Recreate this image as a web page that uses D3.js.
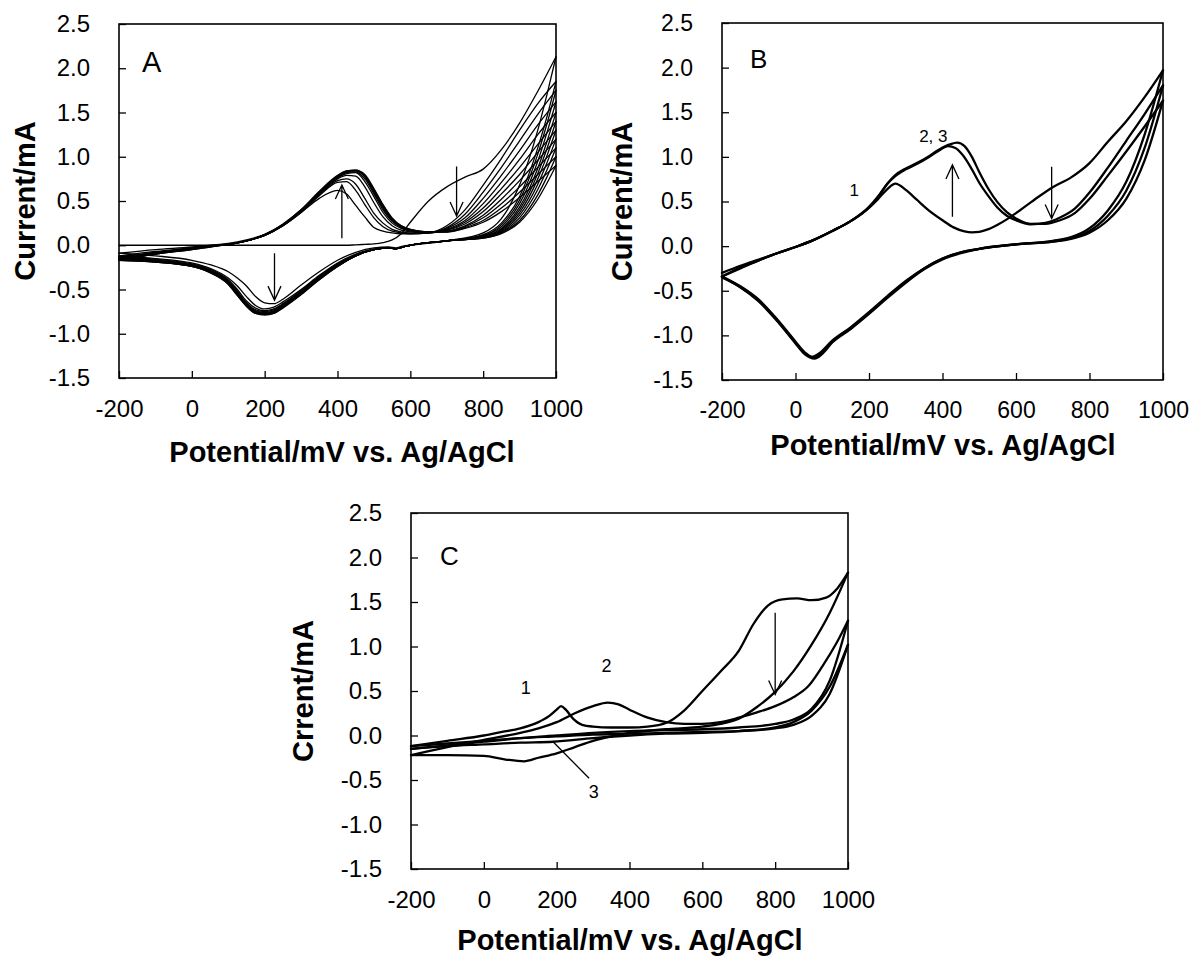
<!DOCTYPE html>
<html><head><meta charset="utf-8">
<script src="https://cdnjs.cloudflare.com/ajax/libs/d3/7.8.5/d3.min.js"></script>
<style>
body{margin:0;background:#fff}
svg{display:block}
text{font-family:"Liberation Sans",Arial,sans-serif;fill:#000}
</style>
</head><body>
<svg id="c" width="1196" height="961"></svg>
<script>
// ---------- shared axis data ----------
const xTickValues = [-200, 0, 200, 400, 600, 800, 1000];
const xTickLabels = ["-200", "0", "200", "400", "600", "800", "1000"];
const yTickValues = [-1.5, -1.0, -0.5, 0.0, 0.5, 1.0, 1.5, 2.0, 2.5];
const yTickLabels = ["-1.5", "-1.0", "-0.5", "0.0", "0.5", "1.0", "1.5", "2.0", "2.5"];

// ---------- Panel A (many cycles on a shared potential grid) ----------
const aFwdX = [-200,-100,0,50,100,150,200,250,300,350,400,425,450,475,500,525,550,575,600,650,700,750,800,850,900,950,1000];
const aFwd = [
 [0,0,0,0,0,0,0,0,0,0,0,0,0.005,0.01,0.015,0.03,0.06,0.13,0.26,0.5,0.66,0.77,0.86,1.08,1.38,1.74,2.13],
 [-0.09,-0.05,-0.02,0.0,0.02,0.06,0.12,0.22,0.37,0.53,0.62,0.58,0.45,0.32,0.2,0.16,0.14,0.13,0.13,0.14,0.22,0.4,0.68,0.98,1.3,1.6,1.85],
 [-0.12,-0.07,-0.03,-0.01,0.01,0.05,0.11,0.22,0.37,0.56,0.71,0.72,0.62,0.46,0.31,0.21,0.16,0.14,0.13,0.14,0.2,0.35,0.6,0.88,1.18,1.48,1.75],
 [-0.13,-0.08,-0.03,-0.01,0.01,0.05,0.11,0.22,0.38,0.57,0.73,0.75,0.69,0.53,0.36,0.25,0.18,0.15,0.14,0.14,0.19,0.31,0.53,0.79,1.07,1.36,1.62],
 [-0.14,-0.08,-0.04,-0.01,0.01,0.05,0.11,0.22,0.38,0.58,0.75,0.79,0.78,0.66,0.48,0.32,0.22,0.17,0.15,0.14,0.18,0.28,0.47,0.71,0.97,1.25,1.5],
 [-0.15,-0.09,-0.04,-0.01,0.01,0.05,0.11,0.23,0.39,0.59,0.76,0.81,0.82,0.72,0.55,0.37,0.25,0.19,0.16,0.14,0.17,0.26,0.42,0.64,0.88,1.14,1.4],
 [-0.15,-0.09,-0.04,-0.01,0.01,0.05,0.12,0.23,0.39,0.59,0.77,0.82,0.83,0.75,0.58,0.4,0.27,0.2,0.17,0.15,0.17,0.24,0.38,0.58,0.8,1.05,1.3],
 [-0.16,-0.09,-0.04,-0.01,0.01,0.05,0.12,0.23,0.39,0.6,0.77,0.83,0.84,0.77,0.6,0.42,0.28,0.21,0.17,0.15,0.16,0.22,0.34,0.52,0.73,0.96,1.2],
 [-0.16,-0.1,-0.04,-0.01,0.01,0.05,0.12,0.23,0.4,0.6,0.78,0.83,0.84,0.78,0.62,0.44,0.29,0.21,0.17,0.15,0.16,0.21,0.31,0.47,0.66,0.88,1.1],
 [-0.17,-0.1,-0.05,-0.02,0.01,0.05,0.12,0.23,0.4,0.6,0.78,0.84,0.85,0.79,0.63,0.45,0.3,0.22,0.18,0.15,0.15,0.2,0.28,0.42,0.6,0.8,1.0],
 [-0.17,-0.1,-0.05,-0.02,0.01,0.05,0.12,0.24,0.4,0.61,0.79,0.84,0.85,0.8,0.64,0.46,0.31,0.22,0.18,0.15,0.15,0.19,0.26,0.38,0.54,0.72,0.9]
];
const aRevX = [-200,-100,0,50,100,125,150,175,200,225,250,300,350,400,450,500,540,560,580,600,700,800,850,900,950,975,1000];
const aRev = [
 [-0.09,-0.12,-0.17,-0.22,-0.3,-0.37,-0.46,-0.58,-0.65,-0.66,-0.61,-0.45,-0.3,-0.17,-0.08,-0.03,-0.02,-0.03,-0.01,0.0,0.05,0.14,0.3,0.68,1.3,1.7,2.13],
 [-0.12,-0.15,-0.2,-0.26,-0.37,-0.46,-0.58,-0.68,-0.72,-0.7,-0.64,-0.5,-0.34,-0.2,-0.1,-0.04,-0.03,-0.04,-0.02,0.0,0.05,0.12,0.25,0.55,1.1,1.45,1.85],
 [-0.13,-0.16,-0.21,-0.27,-0.39,-0.5,-0.63,-0.71,-0.74,-0.72,-0.66,-0.51,-0.35,-0.21,-0.11,-0.05,-0.03,-0.04,-0.02,0.0,0.05,0.11,0.23,0.51,1.03,1.37,1.75],
 [-0.14,-0.17,-0.22,-0.28,-0.4,-0.52,-0.65,-0.73,-0.75,-0.73,-0.67,-0.52,-0.36,-0.22,-0.11,-0.05,-0.03,-0.04,-0.02,0.0,0.05,0.11,0.21,0.47,0.95,1.27,1.62],
 [-0.14,-0.17,-0.22,-0.29,-0.41,-0.53,-0.66,-0.74,-0.76,-0.74,-0.68,-0.53,-0.37,-0.22,-0.11,-0.05,-0.03,-0.04,-0.02,0.0,0.05,0.1,0.19,0.43,0.87,1.17,1.5],
 [-0.15,-0.18,-0.23,-0.29,-0.42,-0.54,-0.67,-0.75,-0.77,-0.75,-0.69,-0.54,-0.37,-0.23,-0.12,-0.05,-0.03,-0.04,-0.02,0.0,0.05,0.1,0.18,0.4,0.81,1.09,1.4],
 [-0.15,-0.18,-0.23,-0.3,-0.42,-0.55,-0.67,-0.75,-0.77,-0.75,-0.69,-0.54,-0.38,-0.23,-0.12,-0.05,-0.03,-0.04,-0.02,0.0,0.05,0.09,0.17,0.37,0.75,1.01,1.3],
 [-0.16,-0.18,-0.23,-0.3,-0.43,-0.55,-0.68,-0.76,-0.78,-0.76,-0.7,-0.55,-0.38,-0.23,-0.12,-0.05,-0.03,-0.04,-0.02,0.0,0.05,0.09,0.16,0.34,0.69,0.93,1.2],
 [-0.16,-0.19,-0.24,-0.3,-0.43,-0.56,-0.68,-0.76,-0.78,-0.76,-0.7,-0.55,-0.38,-0.24,-0.12,-0.05,-0.03,-0.04,-0.02,0.0,0.05,0.09,0.15,0.31,0.63,0.85,1.1],
 [-0.17,-0.19,-0.24,-0.31,-0.44,-0.56,-0.69,-0.77,-0.78,-0.77,-0.7,-0.55,-0.39,-0.24,-0.12,-0.05,-0.03,-0.04,-0.02,0.0,0.05,0.08,0.14,0.28,0.57,0.77,1.0],
 [-0.17,-0.19,-0.24,-0.31,-0.44,-0.57,-0.69,-0.77,-0.79,-0.77,-0.71,-0.56,-0.39,-0.24,-0.12,-0.05,-0.03,-0.04,-0.02,0.0,0.05,0.08,0.13,0.26,0.52,0.7,0.9]
];
const aArrows = [ [412, 0.08, 0.68], [227, -0.09, -0.62], [727, 0.89, 0.33] ];

// ---------- Panel B (three cycles) ----------
const bFwd1 = [[-200,-0.3],[-150,-0.22],[-100,-0.15],[-50,-0.08],[0,-0.01],[50,0.07],[100,0.17],[150,0.28],[200,0.43],[225,0.53],[250,0.64],[272,0.7],[300,0.63],[330,0.52],[360,0.41],[400,0.29],[430,0.21],[460,0.165],[480,0.155],[500,0.16],[525,0.19],[550,0.24],[575,0.3],[600,0.37],[650,0.52],[700,0.66],[750,0.77],[800,0.93],[850,1.17],[900,1.4],[950,1.67],[1000,1.97]];
const bFwd2 = [[-200,-0.34],[-150,-0.24],[-100,-0.16],[-50,-0.08],[0,-0.01],[50,0.07],[100,0.17],[150,0.28],[200,0.43],[225,0.55],[250,0.7],[270,0.78],[300,0.86],[330,0.92],[360,0.99],[390,1.07],[415,1.12],[435,1.1],[455,1.02],[480,0.86],[500,0.71],[525,0.56],[550,0.43],[575,0.34],[600,0.29],[640,0.245],[680,0.26],[720,0.32],[760,0.42],[800,0.6],[850,0.88],[900,1.18],[950,1.48],[1000,1.8]];
const bFwd3 = [[-200,-0.34],[-150,-0.25],[-100,-0.16],[-50,-0.08],[0,-0.01],[50,0.07],[100,0.17],[150,0.28],[200,0.44],[225,0.56],[250,0.7],[270,0.79],[300,0.87],[330,0.93],[360,1.0],[390,1.08],[420,1.14],[440,1.16],[460,1.12],[480,1.0],[500,0.83],[525,0.64],[550,0.49],[575,0.38],[600,0.31],[640,0.25],[680,0.25],[720,0.29],[760,0.37],[800,0.53],[850,0.79],[900,1.06],[950,1.34],[1000,1.63]];
const bRev1 = [[-200,-0.34],[-150,-0.45],[-100,-0.6],[-50,-0.82],[0,-1.07],[25,-1.19],[45,-1.24],[65,-1.2],[100,-1.06],[150,-0.91],[200,-0.74],[250,-0.56],[300,-0.39],[350,-0.25],[400,-0.14],[450,-0.07],[500,-0.03],[600,0.02],[700,0.06],[750,0.1],[800,0.2],[850,0.4],[900,0.72],[950,1.25],[1000,1.97]];
const bRev2 = [[-200,-0.34],[-150,-0.46],[-100,-0.61],[-50,-0.83],[0,-1.08],[25,-1.2],[50,-1.25],[70,-1.2],[100,-1.07],[150,-0.92],[200,-0.75],[250,-0.57],[300,-0.4],[350,-0.25],[400,-0.14],[450,-0.07],[500,-0.03],[600,0.02],[700,0.05],[750,0.09],[800,0.17],[850,0.34],[900,0.62],[950,1.1],[1000,1.8]];
const bRev3 = [[-200,-0.35],[-150,-0.46],[-100,-0.62],[-50,-0.84],[0,-1.09],[25,-1.21],[52,-1.26],[72,-1.21],[100,-1.08],[150,-0.93],[200,-0.76],[250,-0.58],[300,-0.41],[350,-0.26],[400,-0.15],[450,-0.08],[500,-0.03],[600,0.02],[700,0.05],[750,0.08],[800,0.15],[850,0.29],[900,0.53],[950,0.96],[1000,1.63]];
const bArrows = [ [427, 0.33, 0.91], [697, 0.89, 0.31] ];
const bLabels = [ ["1", 160, 0.56], ["2, 3", 375, 1.17] ];

// ---------- Panel C (three cycles) ----------
const cFwd1 = [[-200,-0.12],[-100,-0.06],[0,0.0],[50,0.04],[100,0.08],[150,0.15],[180,0.22],[200,0.29],[212,0.33],[225,0.29],[245,0.19],[270,0.12],[300,0.1],[350,0.09],[400,0.09],[450,0.1],[500,0.14],[550,0.28],[600,0.5],[650,0.72],[700,0.95],[740,1.25],[780,1.46],[820,1.53],[860,1.54],[900,1.52],[940,1.55],[970,1.65],[1000,1.83]];
const cRev1 = [[-200,-0.22],[-100,-0.22],[0,-0.23],[60,-0.27],[110,-0.29],[150,-0.25],[200,-0.2],[250,-0.13],[300,-0.06],[350,-0.01],[400,0.03],[500,0.07],[600,0.1],[650,0.13],[700,0.19],[750,0.32],[800,0.49],[850,0.72],[900,1.02],[950,1.38],[1000,1.83]];
const cFwd2 = [[-200,-0.22],[-100,-0.13],[0,-0.05],[100,0.03],[150,0.08],[200,0.15],[250,0.25],[300,0.33],[340,0.37],[370,0.35],[400,0.29],[450,0.2],[500,0.15],[550,0.13],[600,0.13],[650,0.15],[700,0.2],[750,0.26],[800,0.33],[850,0.43],[890,0.55],[930,0.78],[970,1.05],[1000,1.29]];
const cRev2 = [[-200,-0.15],[-100,-0.11],[0,-0.07],[100,-0.03],[200,0.0],[300,0.03],[400,0.05],[500,0.06],[600,0.07],[700,0.09],[800,0.13],[850,0.18],[900,0.3],[950,0.62],[1000,1.29]];
const cFwd3 = [[-200,-0.15],[-100,-0.12],[0,-0.1],[100,-0.08],[190,-0.07],[300,-0.03],[400,0.0],[500,0.02],[600,0.03],[700,0.05],[800,0.09],[850,0.15],[900,0.28],[950,0.55],[1000,1.02]];
const cRev3 = [[-200,-0.12],[-100,-0.09],[0,-0.06],[100,-0.03],[200,-0.01],[300,0.01],[400,0.02],[500,0.03],[600,0.04],[700,0.05],[800,0.08],[850,0.12],[900,0.22],[950,0.47],[1000,1.02]];
const cArrows = [ [800, 1.38, 0.46] ];
const cLabels = [ ["1", 115, 0.47], ["2", 337, 0.71], ["3", 302, -0.7] ];
const cPointer = [[190, -0.07], [289, -0.48]];

// ---------- drawing ----------
const svg = d3.select("#c");

function panel(o) {
  const x = d3.scaleLinear().domain([-200, 1000]).range([o.left, o.right]);
  const y = d3.scaleLinear().domain([-1.5, 2.5]).range([o.bottom, o.top]);
  const g = svg.append("g");
  const line = d3.line().x(d => x(d[0])).y(d => y(d[1])).curve(d3.curveMonotoneX);

  o.curves.forEach(c => {
    g.append("path").attr("d", line(c)).attr("fill", "none")
      .attr("stroke", "#000").attr("stroke-width", o.lw)
      .attr("stroke-linejoin", "round").attr("stroke-linecap", "round");
  });

  (o.arrows || []).forEach(a => {
    const ax = x(a[0]), y0 = y(a[1]), y1 = y(a[2]);
    const dir = y1 > y0 ? -1 : 1;
    g.append("path")
      .attr("d", `M${ax},${y0}L${ax},${y1}M${ax - 6.5},${y1 + dir * 14}L${ax},${y1}L${ax + 6.5},${y1 + dir * 14}`)
      .attr("fill", "none").attr("stroke", "#000").attr("stroke-width", 1.3);
  });
  if (o.pointer) {
    g.append("path").attr("d", d3.line().x(d => x(d[0])).y(d => y(d[1]))(o.pointer))
      .attr("fill", "none").attr("stroke", "#000").attr("stroke-width", 1.3);
  }
  (o.labels || []).forEach(l => {
    g.append("text").attr("x", x(l[1])).attr("y", y(l[2])).attr("text-anchor", "middle")
      .attr("font-size", o.labelSize).attr("font-family", o.labelFont).text(l[0]);
  });

  const xa = d3.axisBottom(x).tickValues(xTickValues).tickSizeInner(-7).tickSizeOuter(0)
    .tickPadding(o.xpad).tickFormat((d, i) => xTickLabels[i]);
  const ya = d3.axisLeft(y).tickValues(yTickValues).tickSizeInner(-7).tickSizeOuter(0)
    .tickPadding(o.ypad).tickFormat((d, i) => yTickLabels[i]);
  const gx = g.append("g").attr("transform", `translate(0,${o.bottom})`).call(xa);
  const gy = g.append("g").attr("transform", `translate(${o.left},0)`).call(ya);
  [gx, gy].forEach(a => {
    a.select(".domain").remove();
    a.selectAll("line").attr("stroke", "#000").attr("stroke-width", 1.3);
    a.selectAll("text").attr("font-size", o.tickSize).attr("font-family", "Liberation Sans, Arial, sans-serif").attr("fill", "#000");
  });

  g.append("rect").attr("x", o.left).attr("y", o.top).attr("width", o.right - o.left)
    .attr("height", o.bottom - o.top).attr("fill", "none").attr("stroke", "#000").attr("stroke-width", 1.6);

  g.append("text").attr("x", o.letterX).attr("y", o.letterY).attr("font-size", o.letterSize).text(o.letter);

  g.append("text").attr("x", o.xTitleX).attr("y", o.xTitleY).attr("text-anchor", "middle")
    .attr("font-size", o.titleSize).attr("font-weight", "bold").text("Potential/mV vs. Ag/AgCl");
  g.append("text").attr("transform", `translate(${o.yTitleX},${(o.top + o.bottom) / 2}) rotate(-90)`)
    .attr("text-anchor", "middle").attr("font-size", o.titleSize).attr("font-weight", "bold").text(o.yTitle);
}

const aCurves = [];
aFwd.forEach(c => aCurves.push(aFwdX.map((v, i) => [v, c[i]])));
aRev.forEach(c => aCurves.push(aRevX.map((v, i) => [v, c[i]])));

panel({left: 119, right: 556, top: 24, bottom: 378, lw: 1.3, curves: aCurves, arrows: aArrows,
  xpad: 22, ypad: 29, tickSize: 24, letter: "A", letterX: 142, letterY: 72, letterSize: 29,
  xTitleX: 342, xTitleY: 462, titleSize: 29, yTitleX: 35, yTitle: "Current/mA"});

panel({left: 722, right: 1163, top: 23, bottom: 380, lw: 2.3, curves: [bFwd1, bFwd2, bFwd3, bRev1, bRev2, bRev3],
  arrows: bArrows, labels: bLabels, labelSize: 17, labelFont: "Open Sans, sans-serif",
  xpad: 22, ypad: 29, tickSize: 23, letter: "B", letterX: 750, letterY: 68, letterSize: 26,
  xTitleX: 943, xTitleY: 455, titleSize: 29, yTitleX: 632, yTitle: "Current/mA"});

panel({left: 411, right: 848, top: 513, bottom: 869, lw: 2.3, curves: [cFwd1, cRev1, cFwd2, cRev2, cFwd3, cRev3],
  arrows: cArrows, labels: cLabels, labelSize: 18, labelFont: "Liberation Sans Narrow, Liberation Sans, sans-serif", pointer: cPointer,
  xpad: 22, ypad: 29, tickSize: 24, letter: "C", letterX: 440, letterY: 565, letterSize: 26,
  xTitleX: 630, xTitleY: 950, titleSize: 29, yTitleX: 313, yTitle: "Crrent/mA"});
</script>
</body></html>
